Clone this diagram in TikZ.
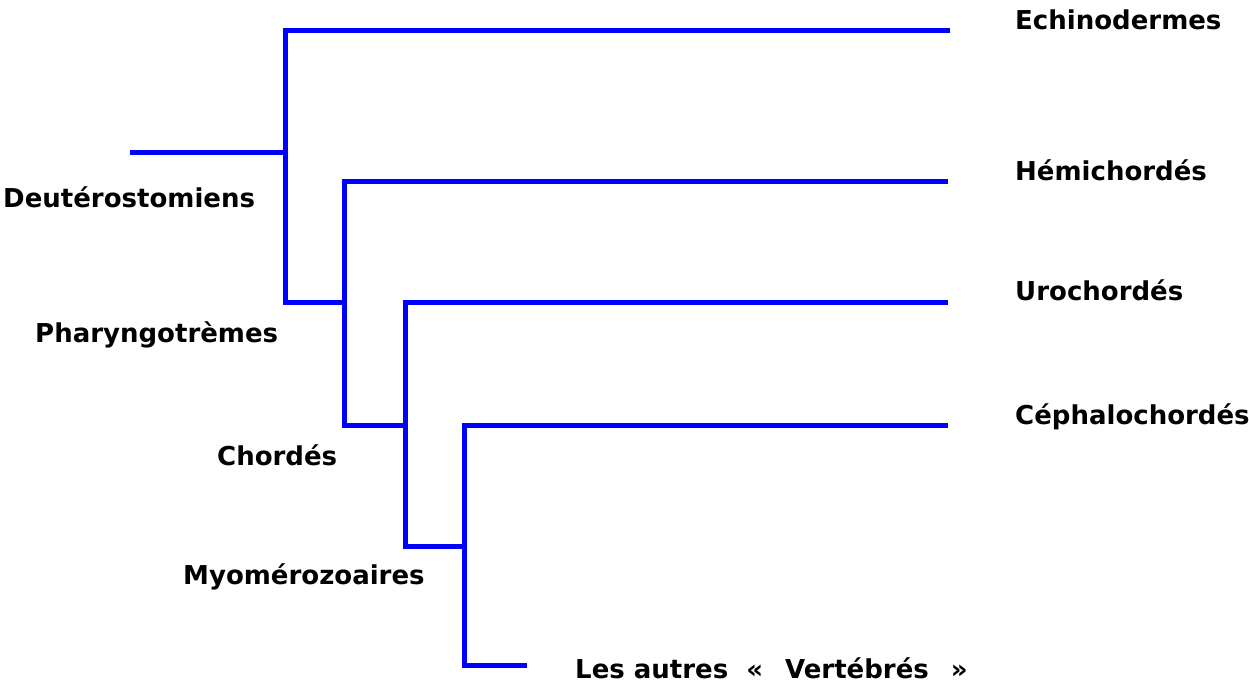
\documentclass[tikz,border=0pt]{standalone}
\usepackage{fontspec}
\setmainfont{DejaVu Sans}
\tikzset{
	branch/.style={draw=blue, line width=5pt},
	taxon/.style={anchor=west, inner sep=0pt, font=\bfseries\fontsize{26}{30}\selectfont}
}
\begin{document}
\begin{tikzpicture}[x=1pt,y=-1pt]
		\useasboundingbox (0,0) rectangle (1249,685);

		\coordinate (root) at (130,152);
		\coordinate (deut) at (285,152);
		\coordinate (phar) at (344,302);
		\coordinate (chor) at (405,425);
		\coordinate (myo) at (464,546);

		\coordinate (echi) at (950,31);
		\coordinate (hemi) at (948,181);
		\coordinate (uro) at (948,302);
		\coordinate (cepha) at (948,425);
		\coordinate (autres) at (527,665);

		\draw[branch] (root) -- (deut);
		\draw[branch] (echi) -| (deut) |- (phar);
		\draw[branch] (hemi) -| (phar) |- (chor);
		\draw[branch] (uro) -| (chor) |- (myo);
		\draw[branch] (cepha) -| (myo) |- (autres);

		\node[taxon] (lechi) at (1015,20) {Echinodermes};
		\node[taxon] (lhemi) at (1015,170) {Hémichordés};
		\node[taxon] (luro) at (1015,290) {Urochordés};
		\node[taxon] (lcepha) at (1015,417) {Céphalochordés};
		\node[taxon] (lautres) at (575,668) {Les autres\hspace{18pt}«\hspace{22pt}Vertébrés\hspace{22pt}»};

		\node[taxon] (ldeut) at (3,197) {Deutérostomiens};
		\node[taxon] (lphar) at (35,335) {Pharyngotrèmes};
		\node[taxon] (lchor) at (217,455) {Chordés};
		\node[taxon] (lmyo) at (183,577) {Myomérozoaires};
	\end{tikzpicture}
\end{document}
